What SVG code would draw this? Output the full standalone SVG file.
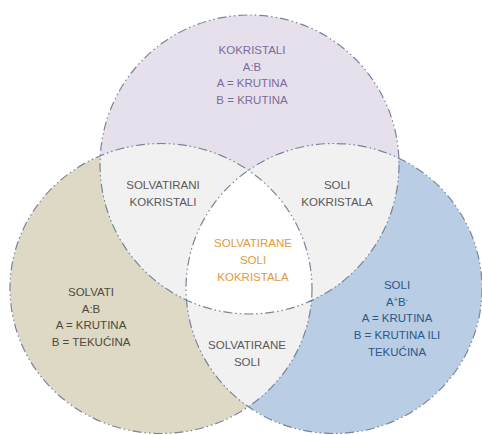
<svg xmlns="http://www.w3.org/2000/svg" width="482" height="435" viewBox="0 0 482 435">
<style>
text{font-family:"Liberation Sans","Open Sans",Arial,sans-serif;font-size:11.5px;text-anchor:middle}
.edge{fill:none;stroke:#7a8498;stroke-width:1.2;stroke-dasharray:9 3 1.5 3 1.5 3}
.ov{fill:#f1f1f1}
.t-top{fill:#7d6b9c}
.t-left{fill:#4e4a3c}
.t-right{fill:#2d5886}
.t-ov{fill:#595959}
.t-c{fill:#e19a3c}
</style>
<defs>
<clipPath id="cT"><ellipse cx="249.5" cy="164.5" rx="149.5" ry="149.5"/></clipPath>
<clipPath id="cL"><ellipse cx="161" cy="288.5" rx="151" ry="145"/></clipPath>
<clipPath id="cR"><ellipse cx="334" cy="288.5" rx="148" ry="145"/></clipPath>
</defs>
<rect width="482" height="435" fill="#ffffff"/>
<g id="kokristali">
<ellipse cx="249.5" cy="164.5" rx="149.5" ry="149.5" fill="#e5e0ec"/>
</g>
<g id="solvati">
<ellipse cx="161" cy="288.5" rx="151" ry="145" fill="#ddd9c4"/>
</g>
<g id="soli">
<ellipse cx="334" cy="288.5" rx="148" ry="145" fill="#b9cde5"/>
</g>
<g id="solvatirani-kokristali">
<ellipse cx="161" cy="288.5" rx="151" ry="145" class="ov" clip-path="url(#cT)"/>
</g>
<g id="soli-kokristala">
<ellipse cx="334" cy="288.5" rx="148" ry="145" class="ov" clip-path="url(#cT)"/>
</g>
<g id="solvatirane-soli">
<ellipse cx="334" cy="288.5" rx="148" ry="145" class="ov" clip-path="url(#cL)"/>
</g>
<g id="solvatirane-soli-kokristala">
<g clip-path="url(#cL)"><ellipse cx="334" cy="288.5" rx="148" ry="145" fill="#ffffff" clip-path="url(#cT)"/></g>
</g>
<g id="connectors">
<ellipse cx="249.5" cy="164.5" rx="149.5" ry="149.5" class="edge"/>
<ellipse cx="161" cy="288.5" rx="151" ry="145" class="edge"/>
<ellipse cx="334" cy="288.5" rx="148" ry="145" class="edge"/>
</g>
<g id="labels">
<text class="t-top" x="252" y="54">KOKRISTALI</text>
<text class="t-top" x="252" y="71">A:B</text>
<text class="t-top" x="252" y="87">A = KRUTINA</text>
<text class="t-top" x="252" y="104">B = KRUTINA</text>
<text class="t-ov" x="163" y="189">SOLVATIRANI</text>
<text class="t-ov" x="163" y="206">KOKRISTALI</text>
<text class="t-ov" x="337" y="189">SOLI</text>
<text class="t-ov" x="337" y="206">KOKRISTALA</text>
<text class="t-c" x="253" y="247">SOLVATIRANE</text>
<text class="t-c" x="253" y="264">SOLI</text>
<text class="t-c" x="253" y="281">KOKRISTALA</text>
<text class="t-left" x="91" y="296">SOLVATI</text>
<text class="t-left" x="91" y="313">A:B</text>
<text class="t-left" x="91" y="329">A = KRUTINA</text>
<text class="t-left" x="91" y="346">B = TEKUĆINA</text>
<text class="t-ov" x="247" y="349">SOLVATIRANE</text>
<text class="t-ov" x="247" y="366">SOLI</text>
<text class="t-right" x="397" y="289">SOLI</text>
<text class="t-right" x="397" y="306">A<tspan font-size="7" dy="-4">+</tspan><tspan dy="4">B</tspan><tspan font-size="7" dy="-4">-</tspan></text>
<text class="t-right" x="397" y="322">A = KRUTINA</text>
<text class="t-right" x="397" y="339">B = KRUTINA ILI</text>
<text class="t-right" x="397" y="356">TEKUĆINA</text>
</g>
</svg>
